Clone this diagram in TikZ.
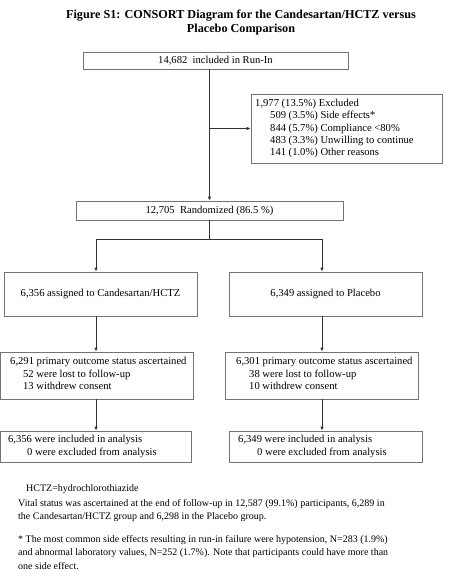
\documentclass[tikz,border=0pt]{standalone}
\usepackage{fontspec}
\setmainfont{Liberation Serif}
\usetikzlibrary{arrows.meta}
\begin{document}
\begin{tikzpicture}[x=1pt,y=-1pt,
  box/.style={draw=black!55,line width=0.8pt,inner sep=0pt,fill=white,
    font=\fontsize{10.6}{12.3}\selectfont},
  txt/.style={inner sep=0pt,align=left,font=\fontsize{10.6}{12.3}\selectfont},
  foot/.style={inner sep=0pt,align=left,font=\fontsize{10}{13.6}\selectfont},
  conn/.style={draw=black!80,line width=0.8pt},
  arr/.style={conn,-{Latex[length=4pt,width=3.6pt]}}]
\useasboundingbox (0,0) rectangle (463,581);
% title
\node[inner sep=0pt,align=center,font=\fontsize{12.2}{14}\selectfont\bfseries] (title) at (241,23)
  {Figure S1: CONSORT Diagram for the Candesartan/HCTZ versus\\Placebo Comparison};
% boxes
\node[box,minimum width=265,minimum height=17] (runin) at (215.5,60.5) {14,682\ \ included in Run-In};
\node[box,minimum width=191,minimum height=69] (excl) at (346.5,128.5) {};
\node[txt,anchor=west] (exclt) at (255,128.5)
  {1,977 (13.5\%) Excluded\\\hspace*{15pt}509 (3.5\%) Side effects*\\\hspace*{15pt}844 (5.7\%) Compliance <80\%\\\hspace*{15pt}483 (3.3\%) Unwilling to continue\\\hspace*{15pt}141 (1.0\%) Other reasons};
\node[box,minimum width=267,minimum height=19] (rand) at (209.5,210.5) {12,705\ \ Randomized (86.5 \%)};
\node[box,minimum width=193,minimum height=44] (assignL) at (100.5,294) {6,356 assigned to Candesartan/HCTZ};
\node[box,minimum width=193,minimum height=44] (assignR) at (325.5,294) {6,349 assigned to Placebo};
\node[box,minimum width=192.5,minimum height=47] (outL) at (96.75,375.5) {};
\node[txt,anchor=west] (outLt) at (10,373.5)
  {6,291 primary outcome status ascertained\\\hspace*{13pt}52 were lost to follow-up\\\hspace*{13pt}13 withdrew consent};
\node[box,minimum width=193,minimum height=47] (outR) at (321.5,375.5) {};
\node[txt,anchor=west] (outRt) at (236,373.5)
  {6,301 primary outcome status ascertained\\\hspace*{13pt}38 were lost to follow-up\\\hspace*{13pt}10 withdrew consent};
\node[box,minimum width=190.5,minimum height=31] (anaL) at (95.75,446.5) {};
\node[txt,anchor=west] (anaLt) at (8,446.5)
  {6,356 were included in analysis\\\hspace*{19pt}0 were excluded from analysis};
\node[box,minimum width=193,minimum height=31] (anaR) at (325.5,446.5) {};
\node[txt,anchor=west] (anaRt) at (238,446.5)
  {6,349 were included in analysis\\\hspace*{19pt}0 were excluded from analysis};
% connectors
\coordinate (cL) at (96,239);
\coordinate (cR) at (322,239);
\coordinate (j) at (rand.north |- excl.west);
\draw[arr] (runin.south -| rand.north) -- (rand.north);
\draw[arr] (j) -- (excl.west);
\draw[conn] (rand.south) -- (rand.south |- cL);
\draw[conn] (cL) -- (cR);
\draw[arr] (cL) -- (cL |- assignL.north);
\draw[arr] (cR) -- (cR |- assignR.north);
\draw[arr] (assignL.south -| cL) -- (outL.north -| cL);
\draw[arr] (assignR.south -| cR) -- (outR.north -| cR);
\draw[arr] (outL.south -| cL) -- (anaL.north -| cL);
\draw[arr] (outR.south -| cR) -- (anaR.north -| cR);
% footnotes
\node[foot,anchor=west] (hctz) at (26,489) {HCTZ=hydrochlorothiazide};
\node[foot,anchor=north west] (vital) at (18,499)
  {Vital status was ascertained at the end of follow-up in 12,587 (99.1\%) participants, 6,289 in\\the Candesartan/HCTZ group and 6,298 in the Placebo group.};
\node[foot,anchor=north west] (star) at (18,535)
  {* The most common side effects resulting in run-in failure were hypotension, N=283 (1.9\%)\\and abnormal laboratory values, N=252 (1.7\%). Note that participants could have more than\\one side effect.};
\end{tikzpicture}
\end{document}
